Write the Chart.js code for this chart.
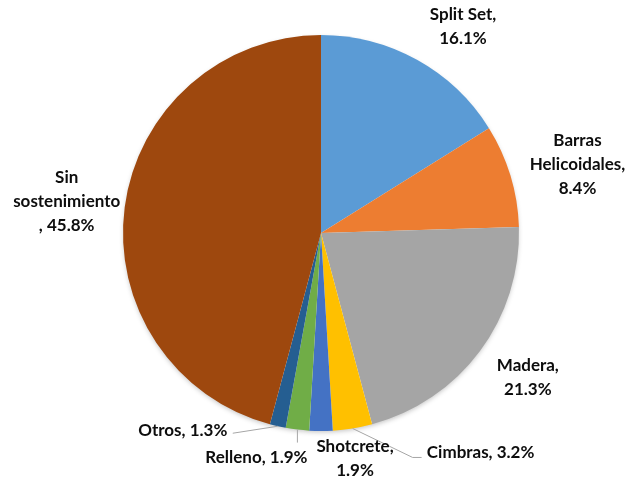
<!DOCTYPE html>
<html>
<head>
<meta charset="utf-8">
<script src="https://cdn.jsdelivr.net/npm/chart.js@4"></script>
<style>
  html, body { margin: 0; padding: 0; background: #fff; }
  #wrap { width: 627px; height: 481px; }
</style>
</head>
<body>
<div id="wrap"><canvas id="myChart"></canvas></div>
<script>
// datos
var categorias = ["Split Set", "Barras Helicoidales", "Madera", "Cimbras", "Shotcrete", "Relleno", "Otros", "Sin sostenimiento"];
var porcentajes = [16.1, 8.4, 21.3, 3.2, 1.9, 1.9, 1.3, 45.8];
var colores = ["#5B9BD5", "#ED7D31", "#A5A5A5", "#FFC000", "#4472C4", "#70AD47", "#255E91", "#9E480E"];

// como se parte cada etiqueta en renglones
var cortes = [
  ["Split Set,", "{v}"],
  ["Barras", "Helicoidales,", "{v}"],
  ["Madera,", "{v}"],
  ["Cimbras, {v}"],
  ["Shotcrete,", "{v}"],
  ["Relleno, {v}"],
  ["Otros, {v}"],
  ["Sin", "sostenimiento", ", {v}"]
];

// desplazamiento de la etiqueta respecto al borde de su porcion, y linea guia
var posEtiquetas = [
  { dx: 46, dy: -33 },
  { dx: 67, dy: -11 },
  { dx: 48, dy: 26 },
  { dx: 128, dy: 24, guia: [[60, 29], [69, 29]] },
  { dx: 34, dy: 28 },
  { dx: -41, dy: 28, guia: [[0, 13]] },
  { dx: -95, dy: 4, guia: [[-45, 7]] },
  { dx: -58, dy: -6 }
];

var FUENTE = "bold 17px Lato, 'Open Sans', sans-serif";
var INTERLINEA = 24;

// sombra suave bajo el pastel
var sombraPlugin = {
  id: "sombra",
  beforeDatasetsDraw: function (chart) {
    var arc = chart.getDatasetMeta(0).data[0];
    if (!arc) return;
    var ctx = chart.ctx;
    ctx.save();
    ctx.shadowColor = "rgba(0,0,0,0.25)";
    ctx.shadowBlur = 5;
    ctx.shadowOffsetY = 2;
    ctx.fillStyle = "#ffffff";
    ctx.beginPath();
    ctx.arc(arc.x, arc.y, arc.outerRadius - 1, 0, Math.PI * 2);
    ctx.fill();
    ctx.restore();
  }
};

// etiquetas fuera del pastel con lineas guia
var etiquetasPlugin = {
  id: "etiquetas",
  afterDatasetsDraw: function (chart) {
    var ctx = chart.ctx;
    var meta = chart.getDatasetMeta(0);
    ctx.save();
    meta.data.forEach(function (arc, i) {
      var p = arc.getProps(["x", "y", "startAngle", "endAngle", "outerRadius"], true);
      var mid = (p.startAngle + p.endAngle) / 2;
      var ax = p.x + Math.cos(mid) * p.outerRadius;
      var ay = p.y + Math.sin(mid) * p.outerRadius;
      var pos = posEtiquetas[i];

      if (pos.guia) {
        ctx.strokeStyle = "#A6A6A6";
        ctx.lineWidth = 1;
        ctx.beginPath();
        ctx.moveTo(ax, ay);
        pos.guia.forEach(function (pt) { ctx.lineTo(ax + pt[0], ay + pt[1]); });
        ctx.stroke();
      }

      var valor = porcentajes[i].toFixed(1) + "%";
      var lineas = cortes[i].map(function (t) { return t.replace("{v}", valor); });
      ctx.font = FUENTE;
      ctx.fillStyle = "#0d0d0d";
      ctx.textAlign = "center";
      ctx.textBaseline = "middle";
      var y0 = ay + pos.dy - (lineas.length - 1) * INTERLINEA / 2;
      lineas.forEach(function (t, k) {
        ctx.fillText(t, ax + pos.dx, y0 + k * INTERLINEA);
      });
    });
    ctx.restore();
  }
};

var ctx = document.getElementById("myChart").getContext("2d");

var chart = new Chart(ctx, {
  type: "pie",
  data: {
    labels: categorias,
    datasets: [
      {
        data: porcentajes,
        backgroundColor: colores,
        borderWidth: 0
      }
    ]
  },
  options: {
    responsive: true,
    maintainAspectRatio: false,
    animation: false,
    layout: { padding: { left: 123, right: 108, top: 35, bottom: 50 } },
    plugins: {
      legend: { display: false },
      tooltip: { enabled: false }
    }
  },
  plugins: [sombraPlugin, etiquetasPlugin]
});
</script>
</body>
</html>
